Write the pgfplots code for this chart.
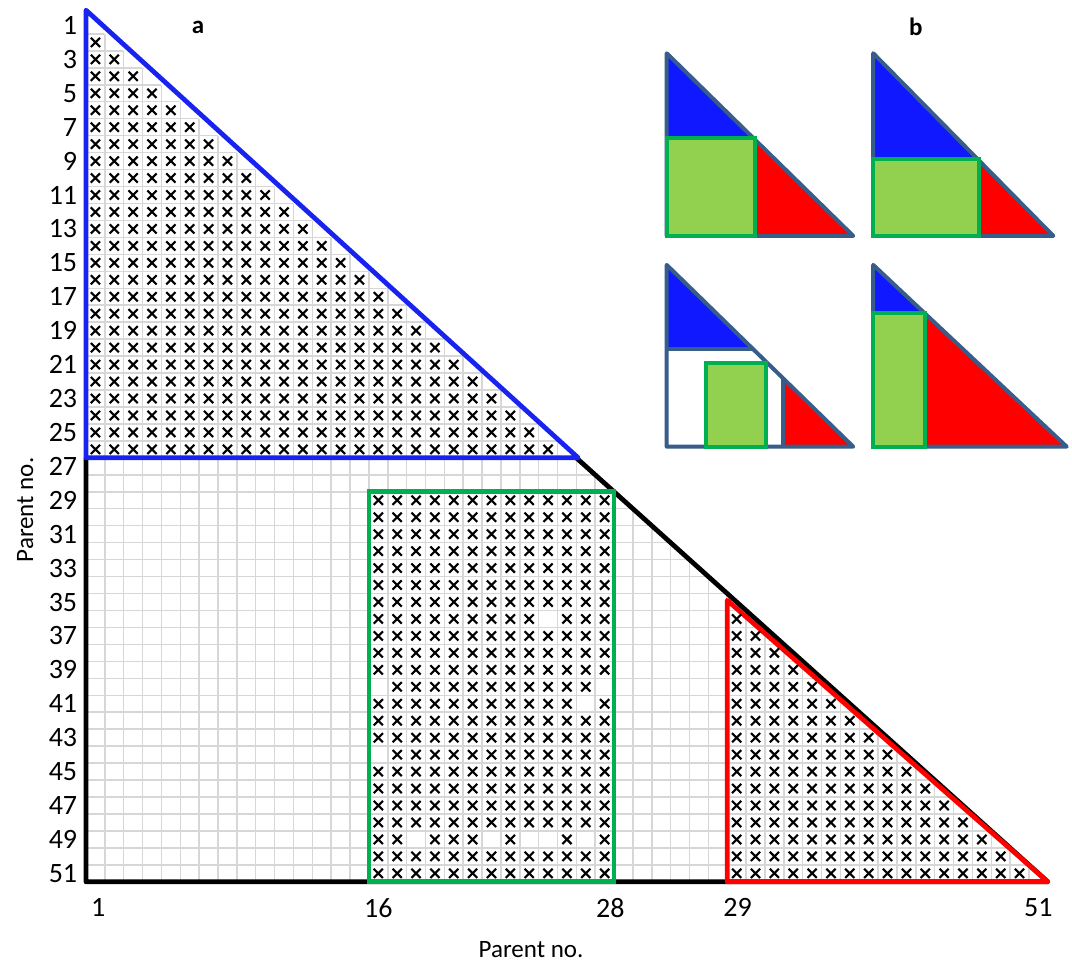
\documentclass[border=0pt]{standalone}
\usepackage{fontspec}
\setmainfont{Carlito}
\usepackage{pgfplots}
\pgfplotsset{compat=1.18}

\definecolor{mainblue}{RGB}{25,35,240}
\definecolor{maingreen}{RGB}{0,176,80}
\definecolor{mainred}{RGB}{255,0,0}
\definecolor{fillblue}{RGB}{16,24,255}
\definecolor{fillgreen}{RGB}{146,208,80}
\definecolor{steel}{RGB}{56,93,138}
\definecolor{gridgray}{RGB}{215,215,215}

\begin{document}
\begin{tikzpicture}
\begin{axis}[
    scale only axis,
    width=384.8pt, height=346pt,
    xmin=0.5, xmax=51.5, ymin=0.5, ymax=51.5,
    y dir=reverse,
    clip=false,
    axis line style={draw=none},
    major tick length=0pt, minor tick length=0pt,
    xtick={1.15,16,28.3,35.05,51},
    xticklabels={1,16,28,29,51},
    ytick={1,3,...,51},
    minor xtick={0.5,1.5,...,51.5},
    minor ytick={0.5,1.5,...,51.5},
    xminorgrids, yminorgrids,
    minor grid style={draw=gridgray, line width=0.6pt},
    /pgf/number format/assume math mode=true,
    tick label style={font=\fontsize{11.2}{13}\selectfont},
    xticklabel style={yshift=-3pt},
    xlabel={Parent no.}, ylabel={Parent no.},
    label style={font=\fontsize{10}{12}\selectfont},
    xlabel style={at={(axis description cs:0.4627,-0.0784)}, anchor=center},
    ylabel style={at={(axis description cs:-0.0633,0.43)}, anchor=center},
    cross/.style={only marks, mark=x, mark size=2.6pt, mark options={line width=0.85pt}, black},
]

% hide the grid above the diagonal
\addplot[fill=white, draw=none] coordinates {(0.5,0.5) (51.5,51.5) (51.9,51.5) (51.9,0.1) (0.5,0.1)} -- cycle;

% crosses: blue block
\addplot[cross] coordinates {
(1,2)
(1,3) (2,3)
(1,4) (2,4) (3,4)
(1,5) (2,5) (3,5) (4,5)
(1,6) (2,6) (3,6) (4,6) (5,6)
(1,7) (2,7) (3,7) (4,7) (5,7) (6,7)
(1,8) (2,8) (3,8) (4,8) (5,8) (6,8) (7,8)
(1,9) (2,9) (3,9) (4,9) (5,9) (6,9) (7,9) (8,9)
(1,10) (2,10) (3,10) (4,10) (5,10) (6,10) (7,10) (8,10) (9,10)
(1,11) (2,11) (3,11) (4,11) (5,11) (6,11) (7,11) (8,11) (9,11) (10,11)
(1,12) (2,12) (3,12) (4,12) (5,12) (6,12) (7,12) (8,12) (9,12) (10,12) (11,12)
(1,13) (2,13) (3,13) (4,13) (5,13) (6,13) (7,13) (8,13) (9,13) (10,13) (11,13) (12,13)
(1,14) (2,14) (3,14) (4,14) (5,14) (6,14) (7,14) (8,14) (9,14) (10,14) (11,14) (12,14) (13,14)
(1,15) (2,15) (3,15) (4,15) (5,15) (6,15) (7,15) (8,15) (9,15) (10,15) (11,15) (12,15) (13,15) (14,15)
(1,16) (2,16) (3,16) (4,16) (5,16) (6,16) (7,16) (8,16) (9,16) (10,16) (11,16) (12,16) (13,16) (14,16) (15,16)
(1,17) (2,17) (3,17) (4,17) (5,17) (6,17) (7,17) (8,17) (9,17) (10,17) (11,17) (12,17) (13,17) (14,17) (15,17) (16,17)
(1,18) (2,18) (3,18) (4,18) (5,18) (6,18) (7,18) (8,18) (9,18) (10,18) (11,18) (12,18) (13,18) (14,18) (15,18) (16,18) (17,18)
(1,19) (2,19) (3,19) (4,19) (5,19) (6,19) (7,19) (8,19) (9,19) (10,19) (11,19) (12,19) (13,19) (14,19) (15,19) (16,19) (17,19) (18,19)
(1,20) (2,20) (3,20) (4,20) (5,20) (6,20) (7,20) (8,20) (9,20) (10,20) (11,20) (12,20) (13,20) (14,20) (15,20) (16,20) (17,20) (18,20) (19,20)
(1,21) (2,21) (3,21) (4,21) (5,21) (6,21) (7,21) (8,21) (9,21) (10,21) (11,21) (12,21) (13,21) (14,21) (15,21) (16,21) (17,21) (18,21) (19,21) (20,21)
(1,22) (2,22) (3,22) (4,22) (5,22) (6,22) (7,22) (8,22) (9,22) (10,22) (11,22) (12,22) (13,22) (14,22) (15,22) (16,22) (17,22) (18,22) (19,22) (20,22) (21,22)
(1,23) (2,23) (3,23) (4,23) (5,23) (6,23) (7,23) (8,23) (9,23) (10,23) (11,23) (12,23) (13,23) (14,23) (15,23) (16,23) (17,23) (18,23) (19,23) (20,23) (21,23) (22,23)
(1,24) (2,24) (3,24) (4,24) (5,24) (6,24) (7,24) (8,24) (9,24) (10,24) (11,24) (12,24) (13,24) (14,24) (15,24) (16,24) (17,24) (18,24) (19,24) (20,24) (21,24) (22,24) (23,24)
(1,25) (2,25) (3,25) (4,25) (5,25) (6,25) (7,25) (8,25) (9,25) (10,25) (11,25) (12,25) (13,25) (14,25) (15,25) (16,25) (17,25) (18,25) (19,25) (20,25) (21,25) (22,25) (23,25) (24,25)
(1,26) (2,26) (3,26) (4,26) (5,26) (6,26) (7,26) (8,26) (9,26) (10,26) (11,26) (12,26) (13,26) (14,26) (15,26) (16,26) (17,26) (18,26) (19,26) (20,26) (21,26) (22,26) (23,26) (24,26) (25,26)
};

% crosses: green block
\addplot[cross] coordinates {
(16,29) (17,29) (18,29) (19,29) (20,29) (21,29) (22,29) (23,29) (24,29) (25,29) (26,29) (27,29) (28,29)
(16,30) (17,30) (18,30) (19,30) (20,30) (21,30) (22,30) (23,30) (24,30) (25,30) (26,30) (27,30) (28,30)
(16,31) (17,31) (18,31) (19,31) (20,31) (21,31) (22,31) (23,31) (24,31) (25,31) (26,31) (27,31) (28,31)
(16,32) (17,32) (18,32) (19,32) (20,32) (21,32) (22,32) (23,32) (24,32) (25,32) (26,32) (27,32) (28,32)
(16,33) (17,33) (18,33) (19,33) (20,33) (21,33) (22,33) (23,33) (24,33) (25,33) (26,33) (27,33) (28,33)
(16,34) (17,34) (18,34) (19,34) (20,34) (21,34) (22,34) (23,34) (24,34) (25,34) (26,34) (27,34) (28,34)
(16,35) (17,35) (18,35) (19,35) (20,35) (21,35) (22,35) (23,35) (24,35) (25,35) (26,35) (27,35) (28,35)
(16,36) (17,36) (18,36) (19,36) (20,36) (21,36) (22,36) (23,36) (24,36) (26,36) (27,36) (28,36)
(16,37) (17,37) (18,37) (19,37) (20,37) (21,37) (22,37) (23,37) (24,37) (25,37) (26,37) (27,37) (28,37)
(16,38) (17,38) (18,38) (19,38) (20,38) (21,38) (22,38) (23,38) (24,38) (25,38) (26,38) (27,38) (28,38)
(16,39) (17,39) (18,39) (19,39) (20,39) (21,39) (22,39) (23,39) (24,39) (25,39) (26,39) (27,39) (28,39)
(17,40) (18,40) (19,40) (20,40) (21,40) (22,40) (23,40) (24,40) (25,40) (26,40) (27,40)
(16,41) (17,41) (18,41) (19,41) (20,41) (21,41) (22,41) (23,41) (24,41) (25,41) (26,41) (28,41)
(16,42) (17,42) (18,42) (19,42) (20,42) (21,42) (22,42) (23,42) (24,42) (25,42) (26,42) (27,42) (28,42)
(16,43) (17,43) (18,43) (19,43) (20,43) (21,43) (22,43) (23,43) (24,43) (25,43) (26,43) (27,43) (28,43)
(17,44) (18,44) (19,44) (20,44) (21,44) (22,44) (23,44) (24,44) (25,44) (26,44) (27,44) (28,44)
(16,45) (17,45) (18,45) (19,45) (20,45) (21,45) (22,45) (23,45) (24,45) (25,45) (26,45) (27,45) (28,45)
(16,46) (17,46) (18,46) (19,46) (20,46) (21,46) (22,46) (23,46) (24,46) (25,46) (26,46) (27,46) (28,46)
(16,47) (17,47) (18,47) (19,47) (20,47) (21,47) (22,47) (23,47) (24,47) (25,47) (26,47) (27,47) (28,47)
(16,48) (17,48) (18,48) (19,48) (20,48) (21,48) (22,48) (23,48) (24,48) (25,48) (26,48) (27,48) (28,48)
(16,49) (17,49) (19,49) (20,49) (21,49) (23,49) (26,49) (28,49)
(16,50) (17,50) (18,50) (19,50) (20,50) (21,50) (22,50) (23,50) (24,50) (25,50) (26,50) (27,50) (28,50)
(16,51) (17,51) (18,51) (19,51) (20,51) (21,51) (22,51) (23,51) (24,51) (25,51) (26,51) (27,51) (28,51)
};

% crosses: red block
\addplot[cross] coordinates {
(35,36)
(35,37) (36,37)
(35,38) (36,38) (37,38)
(35,39) (36,39) (37,39) (38,39)
(35,40) (36,40) (37,40) (38,40) (39,40)
(35,41) (36,41) (37,41) (38,41) (39,41) (40,41)
(35,42) (36,42) (37,42) (38,42) (39,42) (40,42) (41,42)
(35,43) (36,43) (37,43) (38,43) (39,43) (40,43) (41,43) (42,43)
(35,44) (36,44) (37,44) (38,44) (39,44) (40,44) (41,44) (42,44) (43,44)
(35,45) (36,45) (37,45) (38,45) (39,45) (40,45) (41,45) (42,45) (43,45) (44,45)
(35,46) (36,46) (37,46) (38,46) (39,46) (40,46) (41,46) (42,46) (43,46) (44,46) (45,46)
(35,47) (36,47) (37,47) (38,47) (39,47) (40,47) (41,47) (42,47) (43,47) (44,47) (45,47) (46,47)
(35,48) (36,48) (37,48) (38,48) (39,48) (40,48) (41,48) (42,48) (43,48) (44,48) (45,48) (46,48) (47,48)
(35,49) (36,49) (37,49) (38,49) (39,49) (40,49) (41,49) (42,49) (43,49) (44,49) (45,49) (46,49) (47,49) (48,49)
(35,50) (36,50) (37,50) (38,50) (39,50) (40,50) (41,50) (42,50) (43,50) (44,50) (45,50) (46,50) (47,50) (48,50) (49,50)
(35,51) (36,51) (37,51) (38,51) (39,51) (40,51) (41,51) (42,51) (43,51) (44,51) (45,51) (46,51) (47,51) (48,51) (49,51) (50,51)
};

% outlines of panel a
\addplot[black, line width=1.9pt, line join=round] coordinates {(0.5,26.5) (0.5,51.5) (51.5,51.5) (26.5,26.5)};
\addplot[mainblue, line width=1.9pt, line join=round] coordinates {(0.5,0.1) (0.5,26.5) (26.6,26.5)} -- cycle;
\addplot[maingreen, line width=1.9pt] coordinates {(15.5,28.5) (28.5,28.5) (28.5,51.5) (15.5,51.5)} -- cycle;
\addplot[mainred, line width=1.9pt, line join=round] coordinates {(34.5,34.9) (34.5,51.5) (51.5,51.5)} -- cycle;

% panel b, top left
\addplot[fill=fillblue, draw=none] coordinates {(31.29,2.64) (31.29,7.65) (35.89,7.65)} -- cycle;
\addplot[fill=mainred, draw=none] coordinates {(35.95,7.72) (35.95,13.41) (41.18,13.41)} -- cycle;
\addplot[steel, line width=1.6pt, line join=round] coordinates {(31.29,2.64) (31.29,13.41) (41.18,13.41)} -- cycle;
\addplot[fill=fillgreen, draw=maingreen, line width=1.6pt] coordinates {(31.29,7.65) (35.95,7.65) (35.95,13.41) (31.29,13.41)} -- cycle;

% panel b, top right
\addplot[fill=fillblue, draw=none] coordinates {(42.24,2.64) (42.24,8.89) (47.78,8.89)} -- cycle;
\addplot[fill=mainred, draw=none] coordinates {(47.85,8.96) (47.85,13.41) (51.79,13.41)} -- cycle;
\addplot[steel, line width=1.6pt, line join=round] coordinates {(42.24,2.64) (42.24,13.41) (51.79,13.41)} -- cycle;
\addplot[fill=fillgreen, draw=maingreen, line width=1.6pt] coordinates {(42.24,8.89) (47.85,8.89) (47.85,13.41) (42.24,13.41)} -- cycle;

% panel b, bottom left
\addplot[fill=fillblue, draw=none] coordinates {(31.29,15.12) (31.29,20.09) (35.88,20.09)} -- cycle;
\addplot[fill=mainred, draw=none] coordinates {(37.47,21.82) (37.47,25.84) (41.18,25.84)} -- cycle;
\addplot[steel, line width=1.6pt, line join=round] coordinates {(31.29,15.12) (31.29,25.84) (41.18,25.84)} -- cycle;
\addplot[steel, line width=1.6pt] coordinates {(31.29,20.09) (35.88,20.09)};
\addplot[steel, line width=1.6pt] coordinates {(37.47,21.82) (37.47,25.84)};
\addplot[fill=fillgreen, draw=maingreen, line width=1.6pt] coordinates {(33.36,20.88) (36.56,20.88) (36.56,25.84) (33.36,25.84)} -- cycle;

% panel b, bottom right
\addplot[fill=fillblue, draw=none] coordinates {(42.24,15.12) (42.24,17.97) (44.97,17.97)} -- cycle;
\addplot[fill=mainred, draw=none] coordinates {(45.0,17.97) (45.0,25.84) (52.5,25.84)} -- cycle;
\addplot[steel, line width=1.6pt, line join=round] coordinates {(42.24,15.12) (42.24,25.84) (52.5,25.84)} -- cycle;
\addplot[fill=fillgreen, draw=maingreen, line width=1.6pt] coordinates {(42.24,17.97) (45.0,17.97) (45.0,25.84) (42.24,25.84)} -- cycle;

\node[font=\bfseries\fontsize{10}{12}\selectfont] at (axis cs:6.44,1.09) {a};
\node[font=\bfseries\fontsize{10}{12}\selectfont] at (axis cs:44.5,1.09) {b};

% page size of the reference
\path (axis cs:-4.06,-0.5) rectangle (axis cs:52.78,56.4);
\end{axis}
\end{tikzpicture}
\end{document}
